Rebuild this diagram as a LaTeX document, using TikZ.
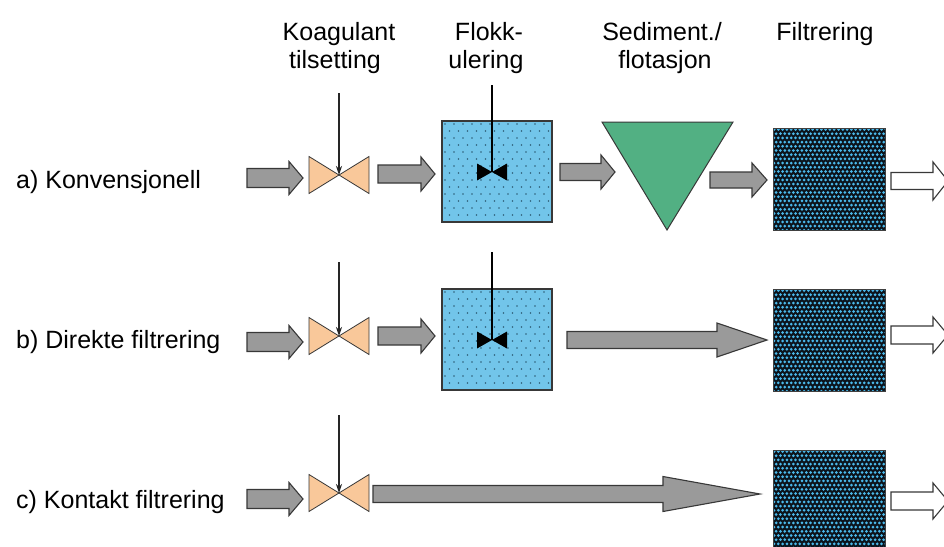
\documentclass[tikz,border=0pt]{standalone}
\usepackage{fontspec}
\setmainfont{Liberation Sans}
\usetikzlibrary{arrows.meta}
\definecolor{arrgray}{HTML}{9A9A9A}
\definecolor{arrline}{HTML}{383838}
\definecolor{valvefill}{HTML}{F9C89A}
\definecolor{floccfill}{HTML}{72C5EA}
\definecolor{floccdot}{HTML}{2F5F78}
\definecolor{sedfill}{HTML}{52B083}
\definecolor{filtbg}{HTML}{0C141C}
\definecolor{filtdot}{HTML}{4AB8EA}
\tikzset{
  blockarrow/.style={fill=arrgray,draw=arrline,line width=1.1pt,line join=miter},
  whitearrow/.style={fill=white,draw=arrline,line width=1.1pt},
  valvepart/.style={fill=valvefill,draw=arrline,line width=0.8pt,line join=miter},
  feedline/.style={draw=black!85,line width=1.1pt,-{Stealth[length=9pt,width=6pt]}},
  stirline/.style={draw=black,line width=1.3pt},
  hdr/.style={font=\fontsize{25}{30}\selectfont,anchor=base,inner sep=0pt},
  rowlbl/.style={font=\fontsize{25}{30}\selectfont,anchor=base west,inner sep=0pt},
}
\newcommand\barrow[7]{%
  \path[#7] (#1,#3-#4) -- (#2-#6,#3-#4) -- (#2-#6,#3-#5) -- (#2,#3) -- (#2-#6,#3+#5) -- (#2-#6,#3+#4) -- (#1,#3+#4) -- cycle;}
\newcommand\valveat[3]{% name, x, y
  \path[valvepart] (#2-30,#3-18.5) -- (#2,#3) -- (#2-30,#3+18.5) -- cycle;
  \path[valvepart] (#2+30,#3-18.5) -- (#2,#3) -- (#2+30,#3+18.5) -- cycle;
  \coordinate (#1) at (#2,#3);}
\newcommand\floccbox[4]{% name, x1, y1, stirtop
  \node[draw=none,minimum width=110pt,minimum height=101pt,inner sep=0pt,anchor=north west,fill=floccfill] (#1) at (#2,#3) {};
  \begin{scope}
    \clip (#2,#3) rectangle (#2+110,#3+101);
    \foreach \r in {0,...,14} {
      \pgfmathsetmacro\off{mod(\r,2)*4.5}
      \foreach \c in {0,...,13} {
        \fill[floccdot] (#2+3+\off+\c*9,#3+3+\r*7) circle (0.85pt);
      }
    }
  \end{scope}
  \draw[arrline,line width=1.1pt] (#2,#3) rectangle (#2+110,#3+101);
  \coordinate (#1c) at (#2+50,#3+51);
  \draw[stirline] (#2+50,#4) -- (#2+50,#3+51);
  \fill[black] (#2+35,#3+42.5) -- (#2+50,#3+51) -- (#2+35,#3+59.5) -- cycle;
  \fill[black] (#2+65,#3+42.5) -- (#2+50,#3+51) -- (#2+65,#3+59.5) -- cycle;}
\newcommand\filterbox[3]{% name, x1, y1
  \node[fill=filtbg,minimum width=112pt,minimum height=102pt,inner sep=0pt,anchor=north west] (#1) at (#2,#3) {};
  \begin{scope}
    \clip (#2,#3) rectangle (#2+112,#3+102);
    \foreach \r in {0,...,24} {
      \pgfmathsetmacro\off{mod(\r,2)*2.15}
      \foreach \c in {0,...,26} {
        \fill[filtdot] (#2+1+\off+\c*4.3,#3+1.5+\r*4.2) circle (1.5pt);
      }
    }
  \end{scope}
  \draw[black!75,line width=0.9pt] (#2,#3) rectangle (#2+112,#3+102);}
\begin{document}
\begin{tikzpicture}[x=1pt,y=-1pt]
\useasboundingbox (0,0) rectangle (944,546);
\fill[white] (0,0) rectangle (944,546);

% headers
\node[hdr] (h1a) at (339,40) {Koagulant};
\node[hdr] (h1b) at (335,68) {tilsetting};
\node[hdr] (h2a) at (489,40) {Flokk-};
\node[hdr] (h2b) at (486,68) {ulering};
\node[hdr] (h3a) at (662,40) {Sediment./};
\node[hdr] (h3b) at (665,68) {flotasjon};
\node[hdr] (h4a) at (825,40) {Filtrering};

% row labels
\node[rowlbl] (la) at (16,188) {a) Konvensjonell};
\node[rowlbl] (lb) at (16,348) {b) Direkte filtrering};
\node[rowlbl] (lc) at (16,508) {c) Kontakt filtrering};

% ---------- row a ----------
\barrow{247}{303}{178}{9.5}{16.5}{14}{blockarrow}
\valveat{va}{339}{175}
\coordinate (vat) at (339,93);
\draw[feedline] (vat) -- (va);
\barrow{378}{435}{174}{9}{17}{14}{blockarrow}
\floccbox{fa}{442}{121}{85}
\barrow{560}{615}{172}{8.5}{17}{14}{blockarrow}
\path[fill=sedfill,draw=arrline,line width=1pt,line join=miter] (602,122) -- (733,122) -- (667,230) -- cycle;
\coordinate (sa) at (667,160);
\barrow{710}{767}{180}{8}{17}{15}{blockarrow}
\filterbox{fia}{773}{128}
\barrow{891}{948}{181}{8.5}{19}{15}{whitearrow}

% ---------- row b ----------
\barrow{247}{303}{342}{9.5}{16.5}{14}{blockarrow}
\valveat{vb}{339}{336}
\coordinate (vbt) at (339,262);
\draw[feedline] (vbt) -- (vb);
\barrow{378}{435}{336}{9}{17}{14}{blockarrow}
\floccbox{fb}{442}{289}{252}
\barrow{567}{767}{340}{8.5}{17}{50}{blockarrow}
\filterbox{fib}{773}{289}
\barrow{891}{948}{335}{9}{18}{15}{whitearrow}

% ---------- row c ----------
\barrow{247}{303}{499}{9.5}{16.5}{14}{blockarrow}
\valveat{vc}{339}{493}
\coordinate (vct) at (339,415);
\draw[feedline] (vct) -- (vc);
\barrow{373}{760}{494}{8.5}{17.5}{97}{blockarrow}
\filterbox{fic}{773}{450}
\barrow{891}{948}{501}{9}{18}{15}{whitearrow}
\end{tikzpicture}
\end{document}
